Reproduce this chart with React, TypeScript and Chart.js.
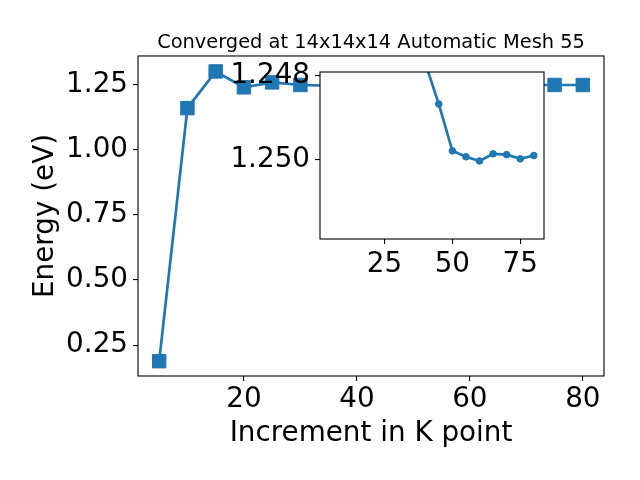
import React, { useEffect, useRef } from "react";
import { Chart, registerables } from "chart.js";

Chart.register(...registerables);

const kPoints = [5, 10, 15, 20, 25, 30, 35, 40, 45, 50, 55, 60, 65, 70, 75, 80];
const energy = [
  0.188, 1.161, 1.302, 1.241, 1.26, 1.25, 1.2475, 1.2477, 1.24868, 1.24979,
  1.24993, 1.25003, 1.24986, 1.24988, 1.24998, 1.2499,
];
const insetStartIndex = 7;
const insetK = kPoints.slice(insetStartIndex);
const insetEnergy = energy.slice(insetStartIndex);

const mainXTicks = [20, 40, 60, 80];
const mainYTicks = [0.25, 0.5, 0.75, 1.0, 1.25];
const insetXTicks = [25, 50, 75];
const insetYTicks = [1.248, 1.25];

const titleText = "Converged at 14x14x14 Automatic Mesh 55";
const xLabel = "Increment in K point";
const yLabel = "Energy (eV)";

const FONT = "'DejaVu Sans', sans-serif";
const BLUE = "#1f77b4";
const BIG = 27.8;

const framePlugin = {
  id: "frame",
  beforeDraw(chart: any, _args: any, opts: any) {
    if (opts && opts.fill) {
      const a = chart.chartArea;
      const ctx = chart.ctx;
      ctx.save();
      ctx.fillStyle = opts.fill;
      ctx.fillRect(a.left, a.top, a.right - a.left, a.bottom - a.top);
      ctx.restore();
    }
  },
  afterDatasetsDraw(chart: any) {
    const a = chart.chartArea;
    const ctx = chart.ctx;
    ctx.save();
    ctx.strokeStyle = "#000";
    ctx.lineWidth = 1.1;
    ctx.strokeRect(a.left, a.top, a.right - a.left, a.bottom - a.top);
    ctx.restore();
  },
};

const gridOpts = {
  display: true,
  drawOnChartArea: false,
  drawTicks: true,
  tickLength: 5,
  color: "#000",
  lineWidth: 1.1,
};

export default function App() {
  const mainRef = useRef<HTMLCanvasElement | null>(null);
  const insetRef = useRef<HTMLCanvasElement | null>(null);

  useEffect(() => {
    Chart.defaults.font.family = FONT;
    Chart.defaults.color = "#000";

    const main = new Chart(mainRef.current as HTMLCanvasElement, {
      type: "line",
      data: {
        datasets: [
          {
            data: kPoints.map((k, i) => ({ x: k, y: energy[i] })),
            borderColor: BLUE,
            backgroundColor: BLUE,
            borderWidth: 2.7,
            pointStyle: "rect",
            pointRadius: 9.5,
            pointBorderWidth: 1,
            pointBackgroundColor: BLUE,
            pointBorderColor: BLUE,
            tension: 0,
          },
        ],
      },
      options: {
        responsive: false,
        animation: false,
        events: [],
        layout: { padding: { left: 0, right: 36, top: 0, bottom: 0 } },
        plugins: {
          legend: { display: false },
          tooltip: { enabled: false },
          title: {
            display: true,
            text: titleText,
            fullSize: false,
            color: "#000",
            font: { size: 19.4, family: FONT, weight: "normal" },
            padding: { top: 31, bottom: 1.7 },
          },
          frame: {},
        } as any,
        scales: {
          x: {
            type: "linear",
            min: 1.25,
            max: 83.75,
            afterBuildTicks: (s: any) => {
              s.ticks = mainXTicks.map((v) => ({ value: v }));
            },
            afterFit: (s: any) => {
              s.height = 104;
            },
            grid: gridOpts,
            border: { display: false },
            ticks: {
              autoSkip: false,
              maxRotation: 0,
              padding: 2,
              color: "#000",
              font: { size: BIG, family: FONT },
              callback: (v: any) => String(v),
            },
            title: {
              display: true,
              text: xLabel,
              color: "#000",
              font: { size: BIG, family: FONT },
              padding: { top: 0, bottom: 30 },
            },
          },
          y: {
            type: "linear",
            min: 0.131,
            max: 1.3615,
            afterBuildTicks: (s: any) => {
              s.ticks = mainYTicks.map((v) => ({ value: v }));
            },
            afterFit: (s: any) => {
              s.width = 138;
            },
            grid: gridOpts,
            border: { display: false },
            ticks: {
              autoSkip: false,
              padding: 5,
              color: "#000",
              font: { size: BIG, family: FONT },
              callback: (v: any) => Number(v).toFixed(2),
            },
            title: {
              display: true,
              text: yLabel,
              color: "#000",
              font: { size: BIG, family: FONT },
              padding: { top: 29, bottom: 0 },
            },
          },
        },
      } as any,
      plugins: [framePlugin as any],
    });

    const inset = new Chart(insetRef.current as HTMLCanvasElement, {
      type: "line",
      data: {
        datasets: [
          {
            data: insetK.map((k, i) => ({ x: k, y: insetEnergy[i] })),
            borderColor: BLUE,
            backgroundColor: BLUE,
            borderWidth: 2.7,
            pointStyle: "circle",
            pointRadius: 3.3,
            pointBorderWidth: 1,
            pointBackgroundColor: BLUE,
            pointBorderColor: BLUE,
            tension: 0,
            clip: 0,
          },
        ],
      },
      options: {
        responsive: false,
        animation: false,
        events: [],
        layout: { padding: { left: 0, right: 36, top: 22, bottom: 0 } },
        plugins: {
          legend: { display: false },
          tooltip: { enabled: false },
          title: { display: false },
          frame: { fill: "#ffffff" },
        } as any,
        scales: {
          x: {
            type: "linear",
            min: 1.25,
            max: 83.75,
            afterBuildTicks: (s: any) => {
              s.ticks = insetXTicks.map((v) => ({ value: v }));
            },
            afterFit: (s: any) => {
              s.height = 51;
            },
            grid: gridOpts,
            border: { display: false },
            ticks: {
              autoSkip: false,
              maxRotation: 0,
              padding: 4,
              color: "#000",
              font: { size: BIG, family: FONT },
              callback: (v: any) => String(v),
            },
          },
          y: {
            type: "linear",
            reverse: true,
            min: 1.24792,
            max: 1.25188,
            afterBuildTicks: (s: any) => {
              s.ticks = insetYTicks.map((v) => ({ value: v }));
            },
            afterFit: (s: any) => {
              s.width = 110;
            },
            grid: gridOpts,
            border: { display: false },
            ticks: {
              autoSkip: false,
              padding: 5,
              color: "#000",
              font: { size: BIG, family: FONT },
              callback: (v: any) => Number(v).toFixed(3),
            },
          },
        },
      } as any,
      plugins: [framePlugin as any],
    });

    return () => {
      main.destroy();
      inset.destroy();
    };
  }, []);

  return (
    <div style={{ position: "absolute", left: 0, top: 0, width: 640, height: 480, background: "#fff" }}>
      <canvas
        ref={mainRef}
        width={640}
        height={480}
        style={{ position: "absolute", left: 0, top: 0, width: 640, height: 480 }}
      />
      <canvas
        ref={insetRef}
        width={370}
        height={240}
        style={{ position: "absolute", left: 210, top: 50, width: 370, height: 240 }}
      />
    </div>
  );
}
